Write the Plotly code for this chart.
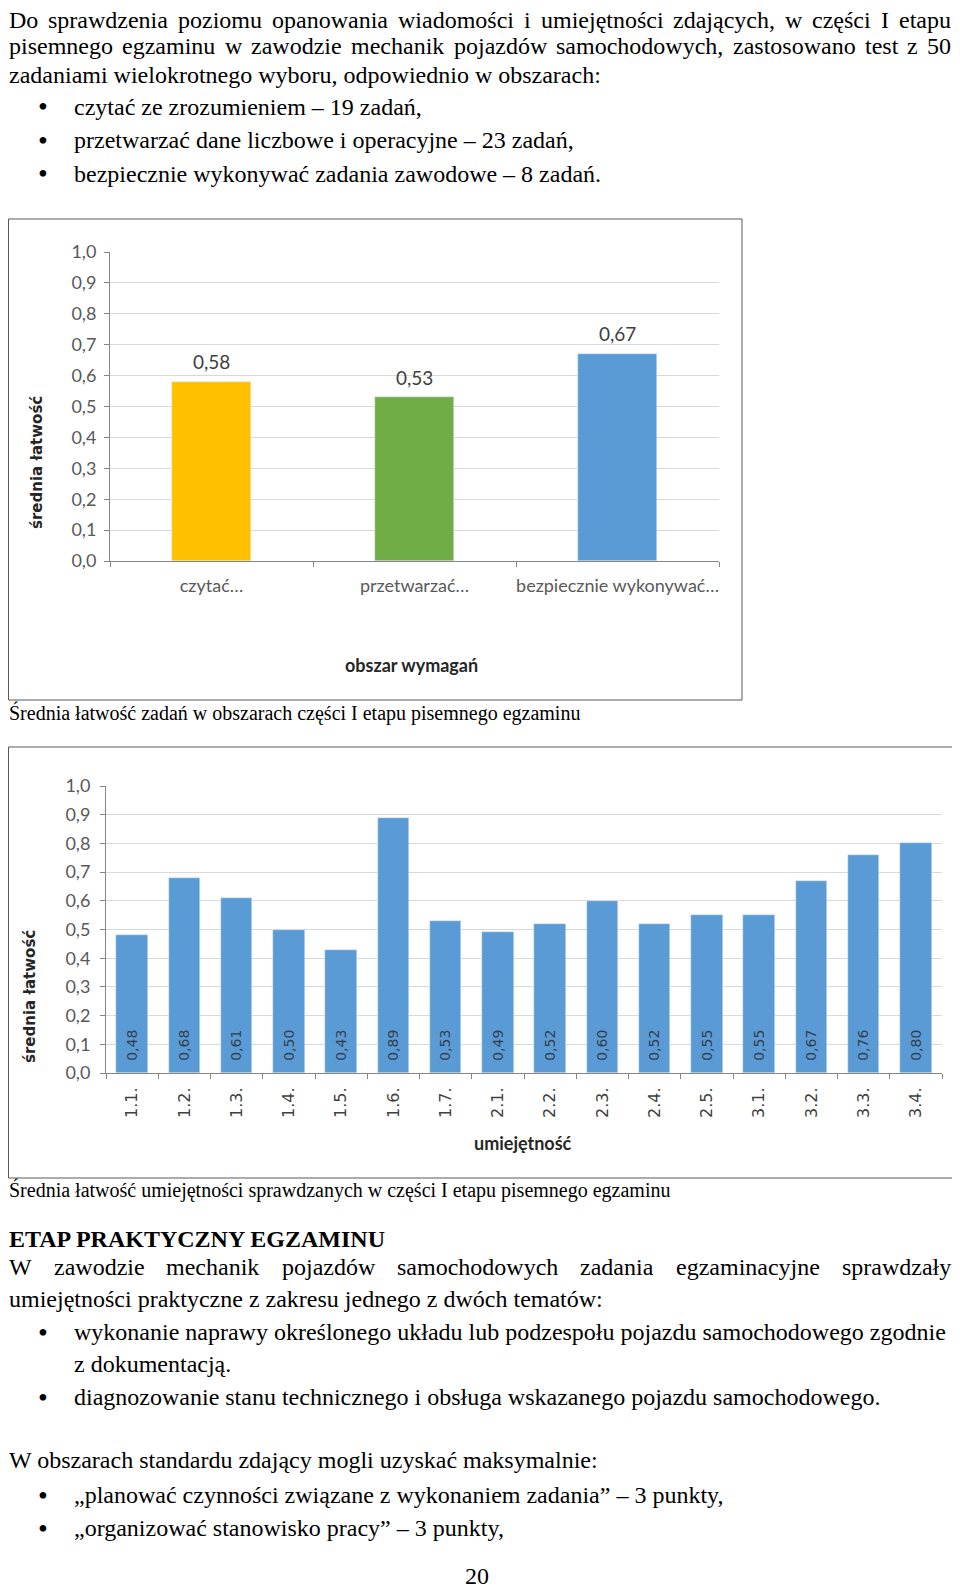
import plotly.graph_objects as go

# --- data -------------------------------------------------------------------
area_labels = ["czytać…", "przetwarzać…", "bezpiecznie wykonywać…"]
area_values = [0.58, 0.53, 0.67]
area_colors = ["#FFC000", "#70AD47", "#5B9BD5"]

skill_labels = ["1.1.", "1.2.", "1.3.", "1.4.", "1.5.", "1.6.", "1.7.", "2.1.",
                "2.2.", "2.3.", "2.4.", "2.5.", "3.1.", "3.2.", "3.3.", "3.4."]
skill_values = [0.48, 0.68, 0.61, 0.50, 0.43, 0.89, 0.53, 0.49,
                0.52, 0.60, 0.52, 0.55, 0.55, 0.67, 0.76, 0.80]

y_ticks = [0.0, 0.1, 0.2, 0.3, 0.4, 0.5, 0.6, 0.7, 0.8, 0.9, 1.0]
y_ticktext = ["0,0", "0,1", "0,2", "0,3", "0,4", "0,5", "0,6", "0,7", "0,8", "0,9", "1,0"]

# page is 960x1594, the html body adds an 8px margin around the figure
OFF = 8
W, H = 960 - OFF, 1594 - OFF
SERIF = "Liberation Serif"
CHART = "Lato"
WIDE = "DejaVu Sans"

# Times widths (per 1000 em) used to justify the paragraph lines
TIMES = dict(zip("abcdefghijklmnopqrstuvwxyz",
                 [444, 500, 444, 500, 444, 333, 500, 500, 278, 278, 500, 278, 778,
                  500, 500, 500, 500, 333, 389, 278, 500, 500, 722, 500, 500, 444]))
TIMES.update({"ą": 444, "ć": 444, "ę": 444, "ł": 278, "ń": 500, "ó": 500, "ś": 389,
              "ź": 444, "ż": 444, ",": 250, ".": 250, ":": 278, "0": 500, "5": 500,
              "D": 722, "I": 333, "W": 944})


def px(x):
    return (x - OFF) / W


def py(y):
    return 1 - (y - OFF) / H


def fmt(v):
    return f"{v:.2f}".replace(".", ",")


fig = go.Figure()

fig.add_trace(go.Bar(
    x=area_labels, y=area_values, marker_color=area_colors, width=0.39,
    xaxis="x", yaxis="y", showlegend=False,
))

fig.add_trace(go.Bar(
    x=skill_labels, y=skill_values, marker_color="#5B9BD5", width=0.60,
    text=["\u00a0\u00a0" + fmt(v) for v in skill_values], textposition="inside",
    insidetextanchor="start", textangle=-90,
    textfont=dict(family=WIDE, size=14, color="#333F50"),
    xaxis="x2", yaxis="y2", showlegend=False,
))

axis_common = dict(showline=True, linecolor="#868686", linewidth=1, automargin=False,
                   ticks="outside", tickcolor="#868686", ticklen=5)

fig.update_layout(
    width=W, height=H, margin=dict(l=0, r=0, t=0, b=0, pad=0), autosize=False,
    paper_bgcolor="white", plot_bgcolor="white", bargap=0,
    xaxis=dict(domain=[px(110), px(719)], anchor="y", tickson="boundaries",
               tickangle=0,
               tickfont=dict(family=CHART, size=18, color="#595959"),
               ticklabelstandoff=8, **axis_common),
    yaxis=dict(domain=[py(561), py(252)], anchor="x", range=[0, 1],
               tickvals=y_ticks, ticktext=y_ticktext, showgrid=True,
               gridcolor="#D9D9D9", zeroline=False,
               tickfont=dict(family=CHART, size=18, color="#595959"),
               ticklabelstandoff=4, **axis_common),
    xaxis2=dict(domain=[px(106), px(942)], anchor="y2", tickson="boundaries",
                tickangle=-90,
                tickfont=dict(family=WIDE, size=16, color="#404040"),
                ticklabelstandoff=7, **axis_common),
    yaxis2=dict(domain=[py(1073), py(786)], anchor="x2", range=[0, 1],
                tickvals=y_ticks, ticktext=y_ticktext, showgrid=True,
                gridcolor="#D9D9D9", zeroline=False,
                tickfont=dict(family=CHART, size=18, color="#595959"),
                ticklabelstandoff=6, **axis_common),
)

# chart frames
for x0, y0, x1, y1 in [(8.5, 219, 742, 700), (8.5, 747, 958, 1178)]:
    fig.add_shape(type="rect", xref="paper", yref="paper",
                  x0=px(x0), y0=py(y0), x1=px(x1), y1=py(y1),
                  line=dict(color="#595959", width=1))

annotations = []

# value labels above the bars of the first chart
for cat, val in zip(area_labels, area_values):
    annotations.append(dict(x=cat, y=val, xref="x", yref="y", text=fmt(val),
                            showarrow=False, yanchor="middle", yshift=20,
                            font=dict(family=CHART, size=19, color="#404040")))


def text(x, y, s, size=24, family=SERIF, color="black", anchor="left", angle=0):
    annotations.append(dict(x=px(x), y=py(y), xref="paper", yref="paper", text=s,
                            showarrow=False, xanchor=anchor, yanchor="middle",
                            textangle=angle, borderpad=0, borderwidth=0,
                            font=dict(family=family, size=size, color=color)))


def justified(y, line, x0=9, x1=951, size=24):
    words = line.split()
    widths = [sum(TIMES.get(ch, 500) for ch in w) * size / 1000 for w in words]
    gap = (x1 - x0 - sum(widths)) / (len(words) - 1)
    x = x0
    for w, wd in zip(words, widths):
        text(x, y, w, size=size)
        x += wd + gap


def bullet(y, s):
    text(43, y, "•", size=28, anchor="center")
    text(74, y, s)


# axis titles
text(411, 665, "<b>obszar wymagań</b>", size=18, family=CHART, color="#262626", anchor="center")
text(37, 463, "<b>średnia łatwość</b>", size=15, family=WIDE, color="#262626", anchor="center", angle=-90)
text(523, 1143, "<b>umiejętność</b>", size=18, family=CHART, color="#262626", anchor="center")
text(30, 997, "<b>średnia łatwość</b>", size=15, family=WIDE, color="#262626", anchor="center", angle=-90)

# page text
justified(20, "Do sprawdzenia poziomu opanowania wiadomości i umiejętności zdających, w części I etapu")
justified(46, "pisemnego egzaminu w zawodzie mechanik pojazdów samochodowych, zastosowano test z 50")
text(9, 75, "zadaniami wielokrotnego wyboru, odpowiednio w obszarach:")
bullet(107, "czytać ze zrozumieniem – 19 zadań,")
bullet(140, "przetwarzać dane liczbowe i operacyjne – 23 zadań,")
bullet(174, "bezpiecznie wykonywać zadania zawodowe – 8 zadań.")

text(9, 713, "Średnia łatwość zadań w obszarach części I etapu pisemnego egzaminu", size=20)
text(9, 1190, "Średnia łatwość umiejętności sprawdzanych w części I etapu pisemnego egzaminu", size=20)

text(9, 1239, "<b>ETAP PRAKTYCZNY EGZAMINU</b>")
justified(1267, "W zawodzie mechanik pojazdów samochodowych zadania egzaminacyjne sprawdzały")
text(9, 1299, "umiejętności praktyczne z zakresu jednego z dwóch tematów:")
bullet(1332, "wykonanie naprawy określonego układu lub podzespołu pojazdu samochodowego zgodnie")
text(74, 1364, "z dokumentacją.")
bullet(1397, "diagnozowanie stanu technicznego i obsługa wskazanego pojazdu samochodowego.")
text(9, 1460, "W obszarach standardu zdający mogli uzyskać maksymalnie:")
bullet(1495, "„planować czynności związane z wykonaniem zadania” – 3 punkty,")
bullet(1528, "„organizować stanowisko pracy” – 3 punkty,")
text(477, 1576, "20", anchor="center")

fig.update_layout(annotations=annotations)

fig.write_html("out.html")
